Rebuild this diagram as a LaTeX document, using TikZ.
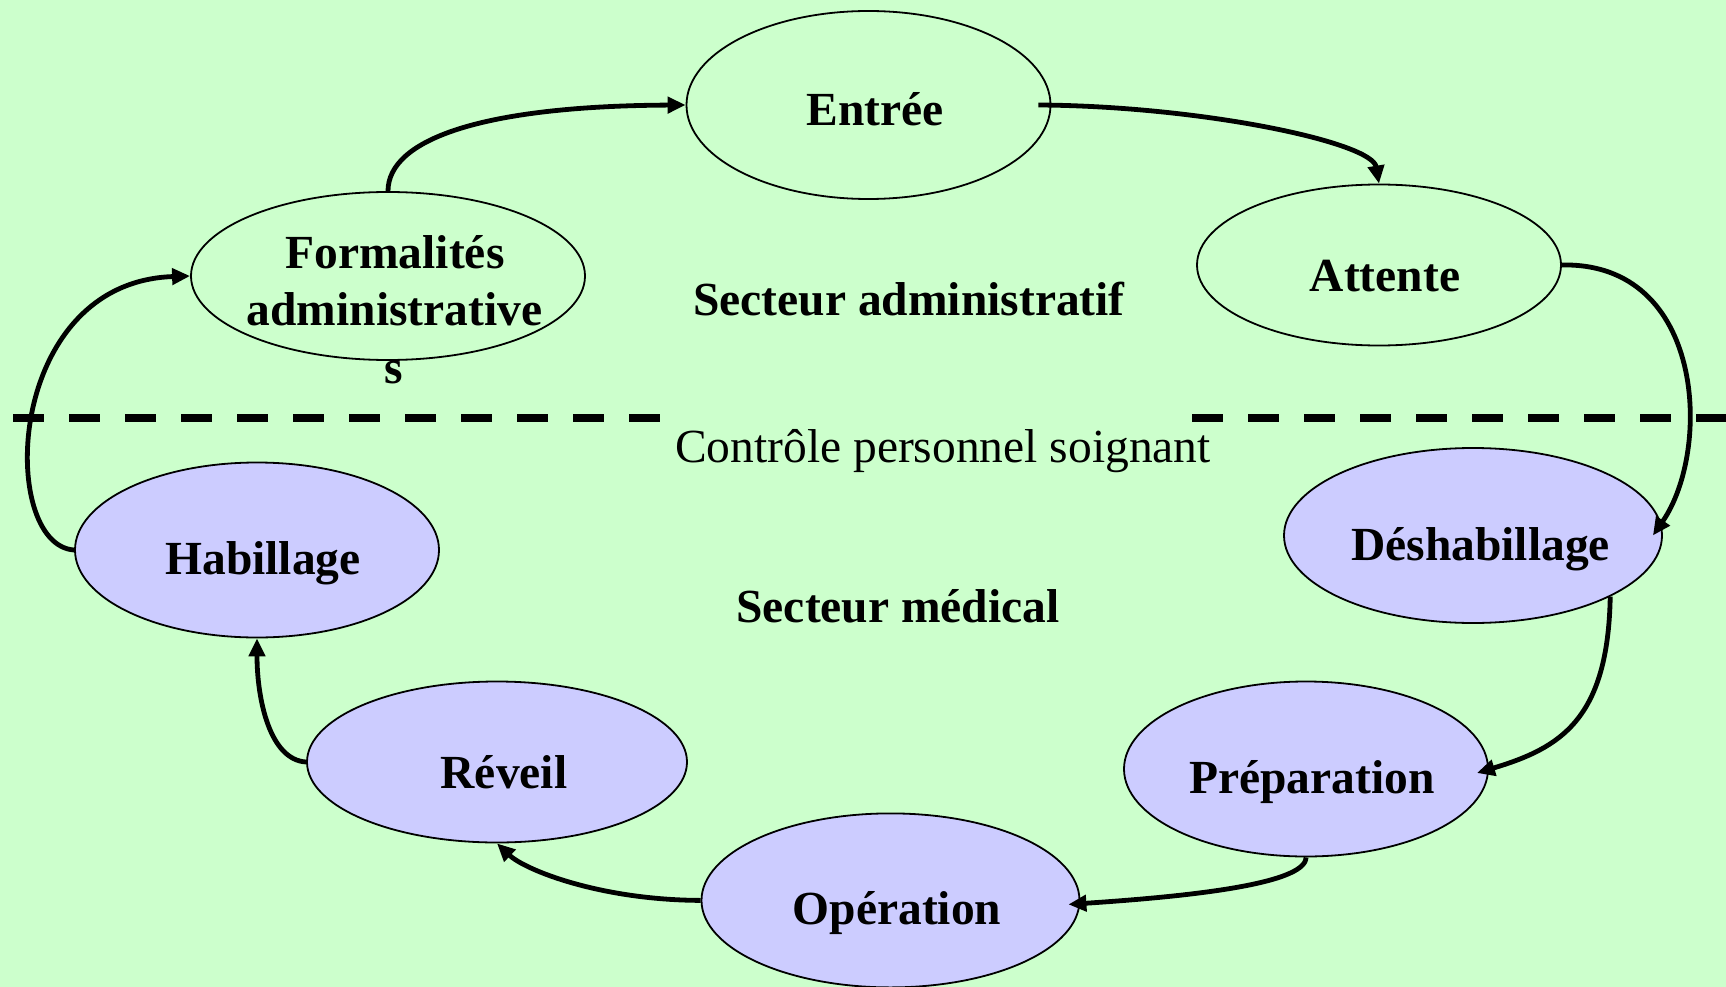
\documentclass[tikz,border=0pt]{standalone}
\usepackage{fontspec}
\setmainfont{Liberation Serif}
\usetikzlibrary{shapes.geometric,arrows.meta}
\definecolor{bggreen}{HTML}{CCFFCC}
\definecolor{lav}{HTML}{CCCCFF}
\tikzset{
  ell/.style={ellipse, draw=black, line width=1.8pt, inner sep=0pt},
  admin/.style={ell, fill=bggreen},
  med/.style={ell, fill=lav},
  lbl/.style={anchor=base, inner sep=0pt, font=\fontsize{47.5}{57}\selectfont\bfseries},
  plain/.style={anchor=base, inner sep=0pt, font=\fontsize{47.5}{57}\selectfont},
  flow/.style={line width=4.8pt, -{Triangle[length=18pt,width=16pt]}},
  sep/.style={line width=8.5pt, dash pattern=on 31pt off 25pt}
}
\begin{document}
\begin{tikzpicture}[x=1pt,y=-1pt]
\fill[bggreen] (0,0) rectangle (1726,987);
\useasboundingbox (0,0) rectangle (1726,987);

% separator
\draw[sep] (13,418) -- (661,418);
\draw[sep] (1192,418) -- (1740,418);

% ellipses
\node[admin, minimum width=364pt, minimum height=188pt] (en) at (868.5,105) {};
\node[admin, minimum width=394pt, minimum height=168pt] (fo) at (388,276) {};
\node[admin, minimum width=364pt, minimum height=161pt] (at) at (1379,265) {};
\node[med, minimum width=378pt, minimum height=175pt] (de) at (1473,535.5) {};
\node[med, minimum width=364pt, minimum height=175pt] (ha) at (257,550) {};
\node[med, minimum width=380pt, minimum height=161pt] (re) at (497,762) {};
\node[med, minimum width=364pt, minimum height=175pt] (pr) at (1306,769) {};
\node[med, minimum width=378pt, minimum height=174pt] (op) at (890.5,900.4) {};

% texts
\node[lbl] (en-t) at (875,126) {Entrée};
\node[lbl] (fo-t1) at (395,268) {Formalités};
\node[lbl] (fo-t2) at (394.6,325) {administrative};
\node[lbl] (fo-t3) at (394,383) {s};
\node[lbl] (at-t) at (1385,291.7) {Attente};
\node[lbl] (sa) at (909,315) {Secteur administratif};
\node[plain] (cps) at (943,462) {Contrôle personnel soignant};
\node[lbl] (sm) at (898,622) {Secteur médical};
\node[lbl] (de-t) at (1480.6,560) {Déshabillage};
\node[lbl] (ha-t) at (263,574) {Habillage};
\node[lbl] (re-t) at (504,788) {Réveil};
\node[lbl] (pr-t) at (1312,793) {Préparation};
\node[lbl] (op-t) at (897,924.5) {Opération};

% connectors
\draw[flow] (fo.north) .. controls (388,140) and (480,106) .. (en.west);
\draw[flow] ([xshift=-13pt]en.east) .. controls (1200,106) and (1372,142) .. (at.north);
\draw[flow] (at.east) .. controls (1705,262) and (1712,450) .. ([xshift=-10pt]de.east);
\draw[flow] (de.-24.6) .. controls (1608,720) and (1560,748) .. ([xshift=-12pt,yshift=-4pt]pr.east);
\draw[flow] (pr.south) .. controls (1306,885) and (1180,897) .. ([xshift=-12pt,yshift=-4pt]op.east);
\draw[flow] (op.west) .. controls (600,900) and (525,870) .. (re.south);
\draw[flow] (re.west) .. controls (270,760) and (257,700) .. (ha.south);
\draw[flow] (ha.west) .. controls (-2,545) and (4,282) .. (fo.west);
\end{tikzpicture}
\end{document}
